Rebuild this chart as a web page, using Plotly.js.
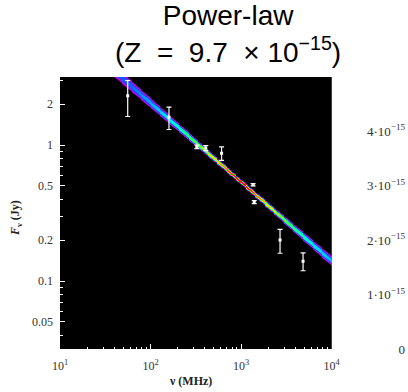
<!DOCTYPE html>
<html>
<head>
<meta charset="utf-8">
<script src="https://cdn.plot.ly/plotly-3.0.1.min.js"></script>
<style>html,body{margin:0;padding:0;background:#fff;}#chart{width:408px;height:392px;}</style>
</head>
<body>
<div id="chart"></div>
<script>
// Observed flux densities
const freqMHz   = [56, 160, 325, 408, 610, 1360, 1400, 2700, 4850];
const fluxJy    = [2.30, 1.60, 0.97, 0.95, 0.87, 0.51, 0.38, 0.20, 0.14];
const fluxErrJy = [0.68, 0.30, 0.03, 0.04, 0.10, 0.01, 0.01, 0.04, 0.021];

// Power-law posterior band (log10 space)
const bandPivot  = [3.0, -0.273];   // [log10 nu, log10 S] at pivot
const bandIndex  = [-0.581];        // spectral index
const bandSpread = [0.011, 0.0132]; // [width at pivot, growth per dex]

// Tick labels
const xTickVals = [10, 100, 1000, 10000];
const xTickText = ['10<sup>1</sup>', '10<sup>2</sup>', '10<sup>3</sup>', '10<sup>4</sup>'];
const yTickVals = [0.05, 0.1, 0.2, 0.5, 1, 2];
const yTickText = ['0.05', '0.1', '0.2', '0.5', '1', '2'];
const zTickVals = [0, 1e-15, 2e-15, 3e-15, 4e-15];
const zTickText = ['0', '1·10<sup>−15</sup>', '2·10<sup>−15</sup>', '3·10<sup>−15</sup>', '4·10<sup>−15</sup>'];

// minor ticks
const xMinor = [];
[10, 100, 1000].forEach(d => { for (let m = 2; m <= 9; m++) xMinor.push(m * d); });
const yMinor = [];
[0.01, 0.1, 1].forEach(d => { for (let m = 1; m <= 9; m++) { const v = m * d; if (v > 0.0316 && v < 3.17) yMinor.push(v); } });

// density image of the band
const gx = [], gy = [];
for (let i = 0; i <= 300; i++) gx.push(1 + i * 0.01);
for (let j = 0; j <= 800; j++) gy.push(-1.5 + j * 0.0025);
const gz = gy.map(ly => gx.map(lx => {
  const s = bandSpread[0] + bandSpread[1] * Math.abs(lx - bandPivot[0]);
  const mu = bandPivot[1] + bandIndex[0] * (lx - bandPivot[0]);
  const d = Math.abs(ly - mu) / s;
  return (bandSpread[0] / s) * Math.exp(-d * d * d / 2);
}));

const cscale = [
  [0, '#000000'], [0.05, '#000000'], [0.1, '#60007a'], [0.17, '#d000f0'],
  [0.26, '#9020ff'], [0.33, '#3030ff'], [0.4, '#1060ff'], [0.48, '#00d8ff'],
  [0.54, '#00ffb0'], [0.6, '#30ff30'], [0.7, '#e0ff00'], [0.76, '#ffc000'],
  [0.82, '#ff7000'], [0.88, '#ff2000'], [1, '#ff0000']
];

const serif = 'Liberation Serif, Times New Roman, serif';

const traces = [
  {type: 'heatmap', x: gx, y: gy, z: gz, xaxis: 'x', yaxis: 'y',
   colorscale: cscale, zmin: 0, zmax: 1, showscale: false, zsmooth: 'best', hoverinfo: 'skip'},
  {type: 'scatter', mode: 'markers', x: freqMHz, y: fluxJy, xaxis: 'x2', yaxis: 'y2',
   marker: {symbol: 'square', size: 3, color: '#ffffff'},
   error_y: {type: 'data', array: fluxErrJy, visible: true, color: '#ffffff', thickness: 1.2, width: 2.5}},
  {type: 'scatter', mode: 'markers', x: [], y: [], xaxis: 'x', yaxis: 'y3', showlegend: false}
];

const dom = [0, 271.5 / 345];
const layout = {
  width: 408, height: 392,
  margin: {l: 60, r: 3, t: 77, b: 43},
  paper_bgcolor: '#ffffff', plot_bgcolor: '#000000',
  showlegend: false,
  title: {text: 'Power-law<br>(Z&nbsp;&nbsp;=&nbsp;&nbsp;9.7&nbsp;&nbsp;×&nbsp;10<sup>−15</sup>)',
          font: {family: 'Liberation Sans, Arial, sans-serif', size: 28, color: '#000'},
          x: 0.559, xref: 'container', xanchor: 'center',
          y: 0.935, yref: 'container', yanchor: 'top'},
  xaxis: {domain: dom, range: [1, 4], visible: false, fixedrange: true},
  yaxis: {range: [-1.5, 0.5], visible: false, fixedrange: true},
  xaxis2: {type: 'log', range: [1, 4], overlaying: 'x', anchor: 'y2', domain: dom,
           tickmode: 'array', tickvals: xTickVals, ticktext: xTickText,
           ticks: 'inside', ticklen: 5, tickwidth: 1, tickcolor: '#ffffff',
           minor: {tickmode: 'array', tickvals: xMinor, ticks: 'inside', ticklen: 2.5, tickwidth: 1, tickcolor: '#ffffff'},
           showgrid: false, zeroline: false, showline: false, ticklabelstandoff: 8,
           tickfont: {family: serif, size: 12, color: '#333'}},
  yaxis2: {type: 'log', range: [-1.5, 0.5], overlaying: 'y', anchor: 'x2', side: 'left',
           tickmode: 'array', tickvals: yTickVals, ticktext: yTickText,
           ticks: 'inside', ticklen: 5, tickwidth: 1, tickcolor: '#ffffff',
           minor: {tickmode: 'array', tickvals: yMinor, ticks: 'inside', ticklen: 2.5, tickwidth: 1, tickcolor: '#ffffff'},
           showgrid: false, zeroline: false, showline: false, ticklabelstandoff: 6,
           tickfont: {family: serif, size: 12, color: '#333'}},
  yaxis3: {range: [0, 5e-15], overlaying: 'y', anchor: 'free', position: 1, side: 'left',
           tickmode: 'array', tickvals: zTickVals, ticktext: zTickText,
           ticks: '', showgrid: false, zeroline: false, showline: false,
           tickfont: {family: serif, size: 13, color: '#333'}},
  annotations: [
    {text: '<b>ν (MHz)</b>', xref: 'paper', yref: 'paper', x: (190 - 60) / 345, y: -(381 - 349) / 272,
     xanchor: 'center', yanchor: 'middle', showarrow: false, font: {family: serif, size: 12, color: '#222'}},
    {text: '<b><i>F</i><sub>ν</sub> (Jy)</b>', xref: 'paper', yref: 'paper', x: (16 - 60) / 345, y: (349 - 218) / 272,
     xanchor: 'center', yanchor: 'middle', textangle: -90, showarrow: false, font: {family: serif, size: 12, color: '#222'}}
  ]
};

Plotly.newPlot('chart', traces, layout, {staticPlot: true, displayModeBar: false});
</script>
</body>
</html>
